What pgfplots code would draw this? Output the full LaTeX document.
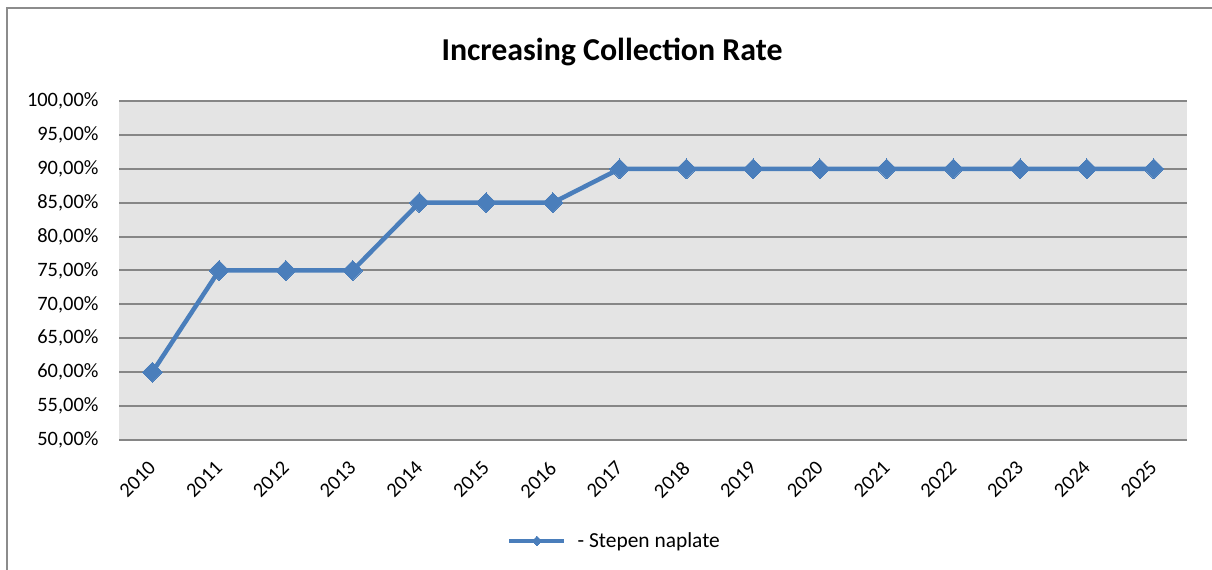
\documentclass[border=0pt]{standalone}
\usepackage{pgfplots}
\pgfplotsset{compat=1.18}
\usepackage{fontspec}
\setmainfont{Carlito}
\definecolor{serieblue}{HTML}{4A7EBB}
\definecolor{gridgray}{HTML}{868686}
\definecolor{plotbg}{HTML}{E4E4E4}
\definecolor{framegray}{HTML}{8C8C8C}
\begin{document}
\begin{tikzpicture}[x=1bp,y=1bp]
\path[use as bounding box] (0,0) rectangle (1212,570);
% outer chart frame
\draw[framegray, line width=2bp] (7,-5) -- (7,562) -- (1220,562);
\node[font=\bfseries\fontsize{32}{38}\selectfont] at (612,518) {Increasing Collection Rate};
\begin{axis}[
  at={(119bp,130bp)}, anchor=south west,
  scale only axis, width=1068bp, height=339bp,
  xmin=-0.5, xmax=15.5, ymin=50, ymax=100,
  xtick={0,...,15},
  xticklabels={2010,2011,2012,2013,2014,2015,2016,2017,2018,2019,2020,2021,2022,2023,2024,2025},
  ytick={50,55,...,100},
  /pgf/number format/assume math mode=true,
  yticklabel={\pgfmathprintnumber[fixed, fixed zerofill, precision=2, use comma]{\tick}\%},
  ticklabel style={font=\fontsize{20.5}{24}\selectfont},
  yticklabel style={anchor=east, xshift=-17bp},
  xticklabel style={xshift=-5bp, yshift=-15bp, rotate=45, anchor=north east},
  major tick length=0pt,
  axis line style={draw=none},
  ymajorgrids=true,
  major grid style={gridgray, line width=2bp},
  axis background/.style={fill=plotbg},
  clip=false,
  legend style={draw=none, fill=none, at={(0.464,-0.298)}, anchor=center,
    font=\fontsize{21.5}{25}\selectfont},
  legend image code/.code={\draw[mark repeat=2, mark phase=2, #1, mark size=3.5bp]
    plot coordinates {(0bp,0bp)(27.5bp,0bp)(55bp,0bp)};
    \path (64bp,0bp);},
]
\addplot[serieblue, line width=4.5bp, mark=square*, mark size=7bp,
  mark options={rotate=45, line width=0pt}]
  coordinates {(0,60)(1,75)(2,75)(3,75)(4,85)(5,85)(6,85)(7,90)(8,90)(9,90)(10,90)(11,90)(12,90)(13,90)(14,90)(15,90)};
\addlegendentry{- Stepen naplate}
\end{axis}
\end{tikzpicture}
\end{document}
